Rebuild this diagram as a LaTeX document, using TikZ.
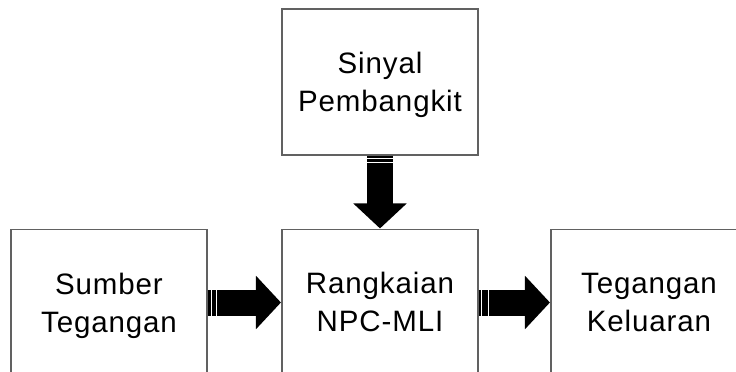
\documentclass[tikz,border=0pt]{standalone}
\usepackage{fontspec}
\setmainfont[LetterSpace=3]{Liberation Sans}
\usetikzlibrary{arrows.meta,calc}
\begin{document}
\begin{tikzpicture}[x=1pt,y=-1pt,
  block/.style={draw=black!62, line width=1.1pt, fill=white, minimum width=196pt, minimum height=146pt, inner sep=0pt},
  lbl/.style={align=center, inner sep=0pt, font=\fontsize{29.5}{38}\selectfont},
  fat/.style={line width=26pt, draw=black, -{Triangle[length=25pt,width=52pt]}, shorten >=0.5pt},
  stripe/.style={draw=white, line width=0.9pt}]
\useasboundingbox (0,0) rectangle (736,372);
\clip (0,0) rectangle (736,372);
\node[block] (sig) at (380,82) {};
\node[block] (npc) at (380,302.5) {};
\node[block] (src) at (109,302.5) {};
\node[block] (out) at (649,302.5) {};
\node[lbl] (sigt) at ($(sig.center)+(0,3)$) {\strut Sinyal\\\strut Pembangkit};
\node[lbl] (npct) at ($(npc.center)+(0,2)$) {\strut Rangkaian\\\strut NPC-MLI};
\node[lbl] (srct) at ($(src.center)+(0,3)$) {\strut Sumber\\\strut Tegangan};
\node[lbl] (outt) at ($(out.center)+(0,2)$) {\strut Tegangan\\\strut Keluaran};
\draw[fat] (sig.south) -- (npc.north);
\draw[fat] (src.east) -- (npc.west);
\draw[fat] (npc.east) -- (out.west);
\draw[stripe] ($(sig.south)+(-13,3)$) -- ($(sig.south)+(13,3)$);
\draw[stripe] ($(sig.south)+(-13,7)$) -- ($(sig.south)+(13,7)$);
\draw[stripe] ($(src.east)+(4,-13)$) -- ($(src.east)+(4,13)$);
\draw[stripe] ($(src.east)+(9,-13)$) -- ($(src.east)+(9,13)$);
\draw[stripe] ($(npc.east)+(3,-13)$) -- ($(npc.east)+(3,13)$);
\draw[stripe] ($(npc.east)+(10,-13)$) -- ($(npc.east)+(10,13)$);
\end{tikzpicture}
\end{document}
